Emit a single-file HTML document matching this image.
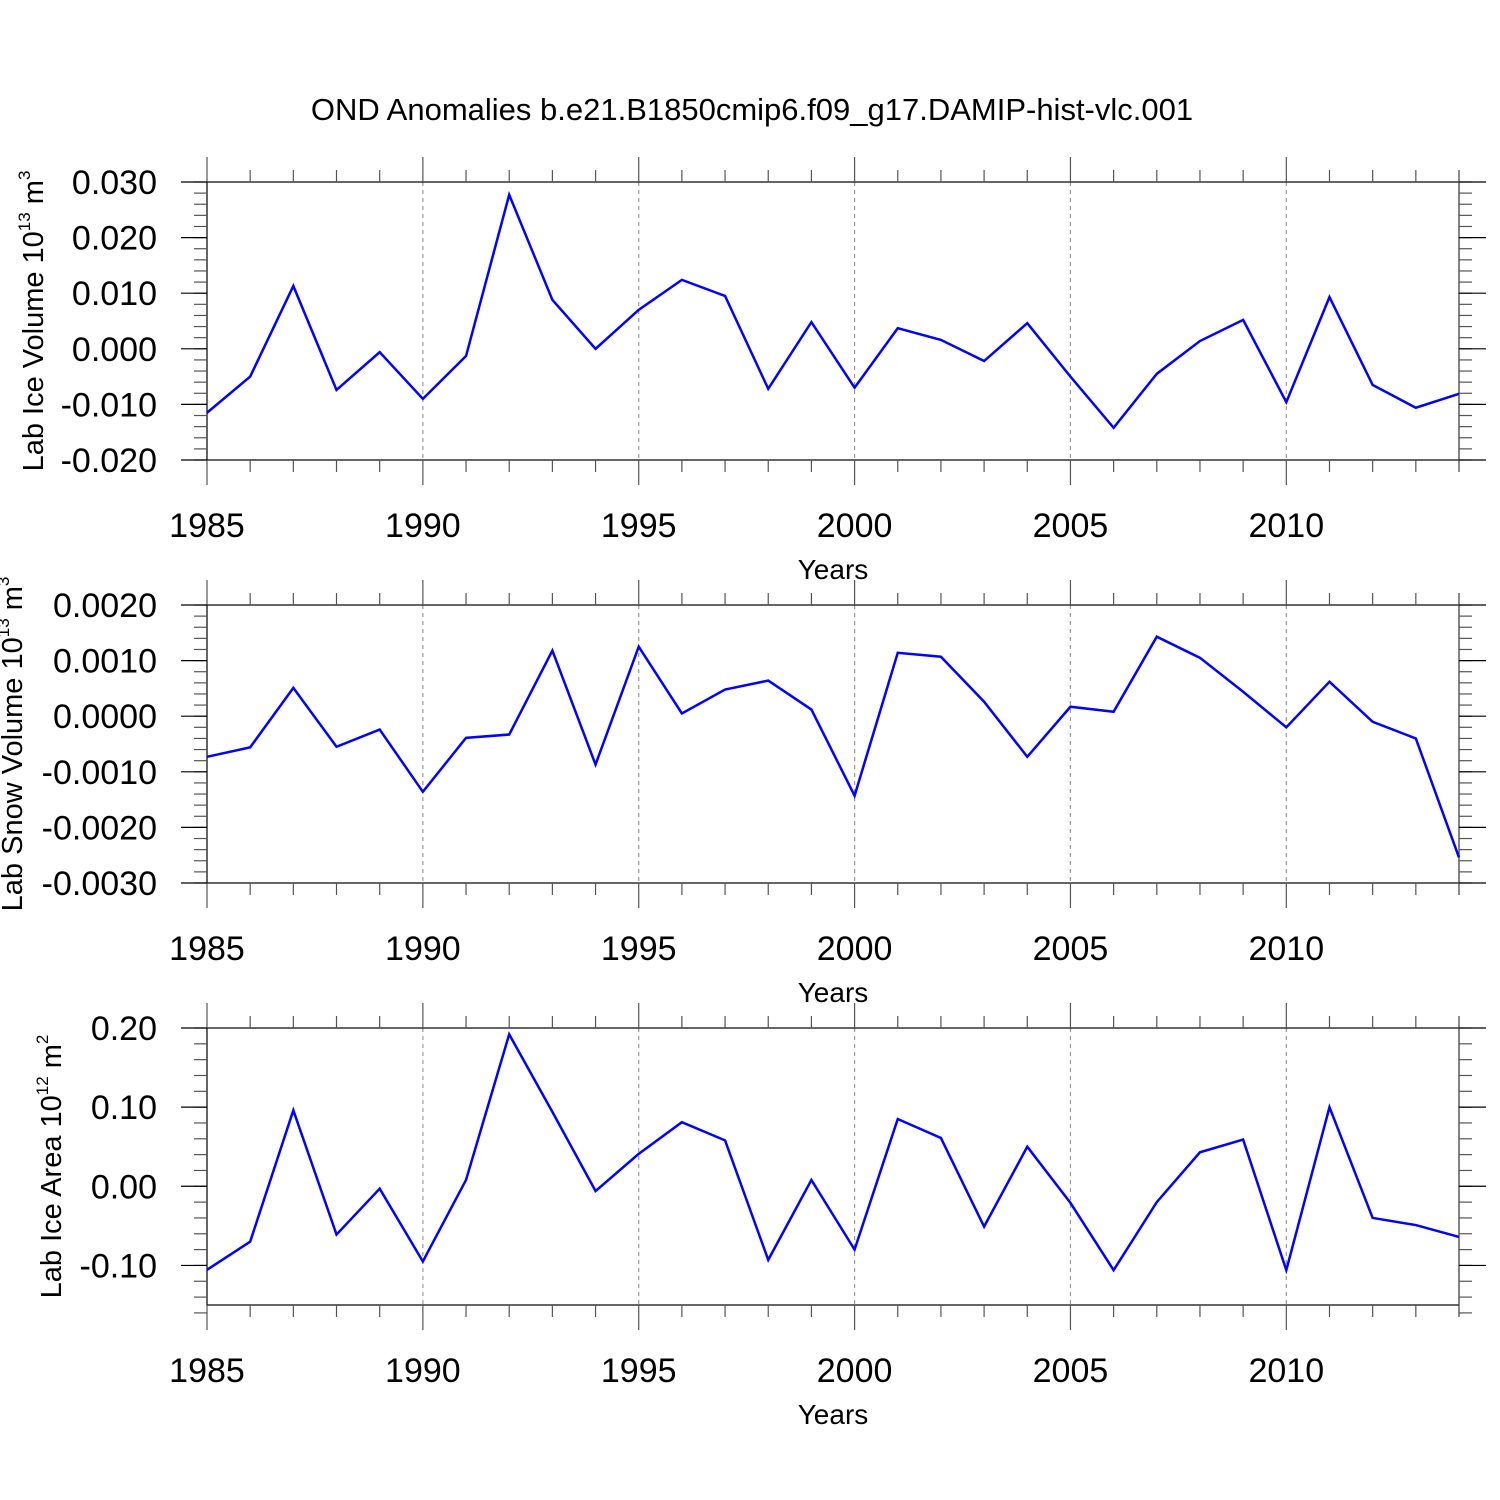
<!DOCTYPE html>
<html><head><meta charset="utf-8"><style>
html,body{margin:0;padding:0;background:#fff;}
svg{display:block;font-family:"Liberation Sans",sans-serif;}
</style></head><body>
<svg id="chart" width="1500" height="1500" viewBox="0 0 1500 1500" xmlns="http://www.w3.org/2000/svg">
<text x="752" y="120" font-size="31" text-anchor="middle">OND Anomalies b.e21.B1850cmip6.f09_g17.DAMIP-hist-vlc.001</text>
</svg>
<script>
const years = [1985,1986,1987,1988,1989,1990,1991,1992,1993,1994,1995,1996,1997,1998,1999,2000,2001,2002,2003,2004,2005,2006,2007,2008,2009,2010,2011,2012,2013,2014];
const iceVolume = [-0.0115,-0.005,0.0113,-0.0074,-0.0006,-0.009,-0.0013,0.0277,0.0088,0.0000,0.007,0.0124,0.0095,-0.0072,0.0048,-0.007,0.0037,0.0016,-0.0022,0.0046,-0.005,-0.0142,-0.0045,0.0014,0.0052,-0.0096,0.0093,-0.0065,-0.0106,-0.0081];
const snowVolume = [-0.00073,-0.00056,0.00051,-0.00055,-0.00024,-0.00136,-0.00039,-0.00033,0.00118,-0.00087,0.00125,0.00005,0.00048,0.00064,0.00012,-0.00143,0.00114,0.00107,0.00026,-0.00073,0.00017,0.00008,0.00143,0.00105,0.00044,-0.0002,0.00062,-0.0001,-0.0004,-0.00254];
const iceArea = [-0.1055,-0.070,0.096,-0.061,-0.003,-0.095,0.008,0.192,0.094,-0.006,0.041,0.081,0.058,-0.093,0.008,-0.080,0.085,0.061,-0.051,0.050,-0.021,-0.106,-0.020,0.043,0.059,-0.106,0.100,-0.040,-0.049,-0.064];
const xTickYears = [1985,1990,1995,2000,2005,2010];
const iceVolTicks = [0.030,0.020,0.010,0.000,-0.010,-0.020];
const iceVolLabels = ["0.030","0.020","0.010","0.000","-0.010","-0.020"];
const snowTicks = [0.002,0.001,0,-0.001,-0.002,-0.003];
const snowLabels = ["0.0020","0.0010","0.0000","-0.0010","-0.0020","-0.0030"];
const areaTicks = [0.20,0.10,0.00,-0.10];
const areaLabels = ["0.20","0.10","0.00","-0.10"];

const NS="http://www.w3.org/2000/svg";
const svg=document.getElementById('chart');
const X0=207,X1=1459;
function xs(yr){return X0+(yr-1985)*(X1-X0)/(2014-1985);}
function mk(tag,attrs,parent){const e=document.createElementNS(NS,tag);for(const k in attrs)e.setAttribute(k,attrs[k]);(parent||svg).appendChild(e);return e;}

function panel(name,top,bot,ymax,ymin,ticks,labels,minorStep,data,ylabelHtml,ylabelX){
  const g=mk('g',{});
  
  
  const ys=v=>top+(ymax-v)*(bot-top)/(ymax-ymin);
  xTickYears.slice(1).forEach(yr=>{
    const l=mk('line',{x1:xs(yr),x2:xs(yr),y1:top,y2:bot,stroke:'#999','stroke-width':1.2,'stroke-dasharray':'4,4'},g);
    
    
  });
  const f=mk('rect',{x:X0,y:top,width:X1-X0,height:bot-top,fill:'none',stroke:'#000','stroke-width':1.2},g);
  
  
  for(let yr=1985;yr<=2014;yr++){
    const major=xTickYears.includes(yr);
    const len=major?25:12;
    mk('line',{x1:xs(yr),x2:xs(yr),y1:top-len,y2:top,stroke:'#555','stroke-width':1.2},g);
    mk('line',{x1:xs(yr),x2:xs(yr),y1:bot,y2:bot+len,stroke:'#555','stroke-width':1.2},g);
  }
  mk('line',{x1:X1,x2:X1,y1:top-12,y2:bot+12,stroke:'#555','stroke-width':1.2},g);
  xTickYears.forEach(yr=>{
    const t=mk('text',{x:xs(yr),y:bot+77,'font-size':34,'text-anchor':'middle'},g);
    t.textContent=yr;
    
    
  });
  const xt=mk('text',{x:833,y:bot+119,'font-size':28,'text-anchor':'middle'},g);
  xt.textContent='Years';
  
  
  const nMinor=Math.round((ymax-ymin)/minorStep);
  for(let i=0;i<=nMinor;i++){
    const y=ys(ymax-i*minorStep);
    mk('line',{x1:X0-13,x2:X0,y1:y,y2:y,stroke:'#555','stroke-width':1.2},g);
    mk('line',{x1:X1,x2:X1+13,y1:y,y2:y,stroke:'#555','stroke-width':1.2},g);
  }
  ticks.forEach((v,i)=>{
    const y=ys(v);
    mk('line',{x1:X0-26,x2:X0,y1:y,y2:y,stroke:'#000','stroke-width':1.2},g);
    mk('line',{x1:X1,x2:X1+27,y1:y,y2:y,stroke:'#000','stroke-width':1.2},g);
    const t=mk('text',{x:157,y:y+12,'font-size':34,'text-anchor':'end'},g);
    t.textContent=labels[i];
    
    
  });
  const yt=mk('text',{transform:'translate('+ylabelX+','+((top+bot)/2)+') rotate(-90)','font-size':29,'text-anchor':'middle'},g);
  yt.innerHTML=ylabelHtml;
  
  
  const pts=years.map((yr,i)=>xs(yr)+','+ys(data[i])).join(' ');
  const pl=mk('polyline',{points:pts,fill:'none',stroke:'#0000ff','stroke-width':2.5,'stroke-linejoin':'miter'},g);
  
  
}
panel('ice-volume',182,460,0.030,-0.020,iceVolTicks,iceVolLabels,0.002,iceVolume,'Lab Ice Volume 10<tspan font-size="17" dy="-13">13</tspan><tspan dy="13"> m</tspan><tspan font-size="17" dy="-13">3</tspan>',43);
panel('snow-volume',605,883,0.002,-0.003,snowTicks,snowLabels,0.0002,snowVolume,'Lab Snow Volume 10<tspan font-size="17" dy="-13">13</tspan><tspan dy="13"> m</tspan><tspan font-size="17" dy="-13">3</tspan>',22);
panel('ice-area',1028,1305,0.20,-0.15,areaTicks,areaLabels,0.02,iceArea,'Lab Ice Area 10<tspan font-size="17" dy="-13">12</tspan><tspan dy="13"> m</tspan><tspan font-size="17" dy="-13">2</tspan>',61);
</script>
</body></html>
